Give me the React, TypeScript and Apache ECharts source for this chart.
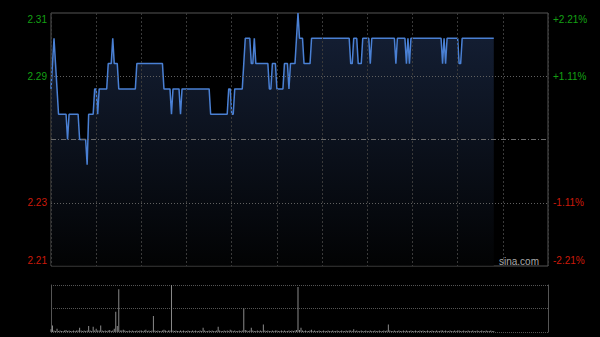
import React, { useEffect, useRef } from 'react';
import * as echarts from 'echarts';

// ---- data ----
const sessionMinutes = 330; // HK trading day 9:30-12:00, 13:00-16:00
const minuteStep = 30;
const prevClose = 2.26;
const priceMin = 2.21;
const priceMax = 2.31;
const dottedLevels = [2.235, 2.285];
const leftLabels = ['2.21', '2.23', '', '2.29', '2.31'];
const rightLabels = ['-2.21%', '-1.11%', '', '+1.11%', '+2.21%'];

const prices = [
  2.28, 2.29, 2.30, 2.29, 2.28, 2.27, 2.27, 2.27, 2.27, 2.27, 2.27, 2.26, 2.27, 2.27, 2.27, 2.27, 2.27, 2.27, 2.27, 2.26, 2.26, 2.26, 2.26, 2.26, 2.25, 2.27, 2.27, 2.27, 2.27, 2.28,
  2.28, 2.27, 2.28, 2.28, 2.28, 2.28, 2.28, 2.28, 2.29, 2.29, 2.29, 2.30, 2.29, 2.29, 2.29, 2.28, 2.28, 2.28, 2.28, 2.28, 2.28, 2.28, 2.28, 2.28, 2.28, 2.28, 2.28, 2.29, 2.29, 2.29,
  2.29, 2.29, 2.29, 2.29, 2.29, 2.29, 2.29, 2.29, 2.29, 2.29, 2.29, 2.29, 2.29, 2.29, 2.29, 2.28, 2.28, 2.28, 2.28, 2.28, 2.27, 2.28, 2.28, 2.28, 2.28, 2.28, 2.27, 2.28, 2.28, 2.28,
  2.28, 2.28, 2.28, 2.28, 2.28, 2.28, 2.28, 2.28, 2.28, 2.28, 2.28, 2.28, 2.28, 2.28, 2.28, 2.28, 2.27, 2.27, 2.27, 2.27, 2.27, 2.27, 2.27, 2.27, 2.27, 2.27, 2.27, 2.27, 2.28, 2.28,
  2.27, 2.27, 2.28, 2.28, 2.28, 2.28, 2.28, 2.28, 2.29, 2.30, 2.30, 2.30, 2.30, 2.29, 2.29, 2.30, 2.29, 2.29, 2.29, 2.29, 2.29, 2.29, 2.29, 2.29, 2.29, 2.28, 2.28, 2.29, 2.29, 2.29,
  2.28, 2.28, 2.28, 2.28, 2.28, 2.29, 2.29, 2.29, 2.28, 2.29, 2.29, 2.29, 2.29, 2.30, 2.31, 2.30, 2.30, 2.30, 2.29, 2.29, 2.29, 2.29, 2.29, 2.30, 2.30, 2.30, 2.30, 2.30, 2.30, 2.30,
  2.30, 2.30, 2.30, 2.30, 2.30, 2.30, 2.30, 2.30, 2.30, 2.30, 2.30, 2.30, 2.30, 2.30, 2.30, 2.30, 2.30, 2.30, 2.30, 2.29, 2.29, 2.30, 2.30, 2.30, 2.29, 2.29, 2.29, 2.30, 2.30, 2.30,
  2.30, 2.30, 2.29, 2.30, 2.30, 2.30, 2.30, 2.30, 2.30, 2.30, 2.30, 2.30, 2.30, 2.30, 2.30, 2.30, 2.30, 2.30, 2.30, 2.29, 2.30, 2.30, 2.30, 2.30, 2.30, 2.30, 2.29, 2.30, 2.29, 2.30,
  2.30, 2.30, 2.30, 2.30, 2.30, 2.30, 2.30, 2.30, 2.30, 2.30, 2.30, 2.30, 2.30, 2.30, 2.30, 2.30, 2.30, 2.30, 2.30, 2.30, 2.29, 2.30, 2.29, 2.30, 2.30, 2.30, 2.30, 2.30, 2.30, 2.30,
  2.30, 2.29, 2.29, 2.30, 2.30, 2.30, 2.30, 2.30, 2.30, 2.30, 2.30, 2.30, 2.30, 2.30, 2.30, 2.30, 2.30, 2.30, 2.30, 2.30, 2.30, 2.30, 2.30, 2.30, 2.30,
];

const volumes = [
  6, 14, 3, 2, 7, 2, 3, 2, 2, 3, 4, 2, 3, 2, 2, 3, 2, 3, 3, 9, 3, 2, 3, 2, 3, 13, 3, 2, 11, 3,
  7, 3, 3, 14, 3, 2, 3, 2, 3, 4, 2, 3, 7, 43, 13, 91, 3, 3, 5, 3, 2, 2, 3, 2, 3, 2, 2, 3, 2, 3,
  3, 2, 3, 5, 2, 3, 2, 3, 34, 3, 2, 3, 2, 2, 3, 5, 3, 2, 3, 3, 100, 3, 2, 3, 2, 2, 3, 2, 3, 2,
  2, 3, 2, 2, 3, 2, 3, 2, 2, 3, 2, 9, 3, 2, 2, 3, 2, 3, 2, 2, 3, 11, 3, 2, 2, 3, 2, 3, 2, 5,
  3, 2, 3, 2, 2, 3, 2, 3, 50, 4, 3, 2, 3, 9, 3, 2, 2, 3, 2, 3, 2, 16, 3, 2, 3, 2, 2, 3, 2, 3,
  3, 2, 2, 3, 2, 3, 2, 2, 3, 2, 3, 2, 3, 4, 96, 4, 9, 3, 2, 3, 2, 2, 3, 5, 2, 3, 2, 2, 3, 2,
  2, 3, 2, 2, 3, 2, 2, 3, 2, 2, 3, 2, 2, 3, 2, 2, 3, 2, 3, 3, 2, 6, 2, 3, 2, 2, 3, 2, 2, 3,
  2, 2, 3, 2, 2, 3, 2, 2, 3, 2, 2, 3, 2, 3, 16, 3, 2, 2, 3, 2, 2, 3, 2, 2, 3, 2, 3, 2, 2, 3,
  2, 2, 3, 2, 2, 3, 2, 3, 2, 2, 3, 2, 2, 3, 2, 2, 3, 2, 2, 3, 3, 2, 3, 2, 2, 3, 2, 2, 3, 2,
  3, 3, 2, 2, 3, 2, 2, 3, 2, 2, 3, 2, 2, 3, 2, 2, 3, 2, 2, 3, 2, 2, 3, 2, 2,
];
const volumeMax = 100;

const FONT = '"Liberation Sans", Arial, sans-serif';
const GREEN = '#14a014';
const RED = '#cc1a0a';

function labelAxis(position: 'left' | 'right', labels: string[], margin: number) {
  return {
    type: 'value',
    gridIndex: 0,
    position,
    min: 0,
    max: labels.length - 1,
    interval: 1,
    axisLine: { show: false },
    axisTick: { show: false },
    splitLine: { show: false },
    axisLabel: {
      margin,
      fontSize: 10,
      fontFamily: FONT,
      color: (v: number) => (v > 2 ? GREEN : v < 2 ? RED : '#ccc'),
      formatter: (v: number) => {
        const i = Math.round(v);
        const t = labels[i];
        if (!t) return '';
        if (i === labels.length - 1) return `{top|${t}}`;
        if (i === 0) return `{bot|${t}}`;
        return t;
      },
      rich: {
        top: { color: GREEN, fontSize: 10, fontFamily: FONT, padding: [12, 0, 0, 0] },
        bot: { color: RED, fontSize: 10, fontFamily: FONT, padding: [0, 0, 12, 0] },
      },
    },
  };
}

export default function App() {
  const ref = useRef<HTMLDivElement>(null);
  useEffect(() => {
    if (!ref.current) return;
    const chart = echarts.init(ref.current, null, { renderer: 'svg' });
    const lineData = prices.map((p, i) => [i, p]);
    const volData = volumes.map((v, i) => [i, v]);
    chart.setOption({
      animation: false,
      backgroundColor: '#000',
      grid: [
        { left: 51, top: 13, width: 497, height: 253, show: true, borderColor: '#555', borderWidth: 1, backgroundColor: 'transparent' },
        { left: 51, top: 285, width: 497, height: 47 },
      ],
      xAxis: [
        {
          type: 'value', gridIndex: 0, min: 0, max: sessionMinutes, interval: minuteStep,
          axisLine: { show: false }, axisTick: { show: false }, axisLabel: { show: false },
          splitLine: { show: true, lineStyle: { color: '#3a3a3a', type: [2, 2], width: 1 } },
          z: 5,
        },
        {
          type: 'value', gridIndex: 1, min: 0, max: sessionMinutes, interval: minuteStep,
          axisLine: { show: false }, axisTick: { show: false }, axisLabel: { show: false },
          splitLine: { show: false },
        },
      ],
      yAxis: [
        { type: 'value', gridIndex: 0, min: priceMin, max: priceMax, show: false },
        labelAxis('left', leftLabels, 4),
        labelAxis('right', rightLabels, 5),
        {
          type: 'value', gridIndex: 1, position: 'left', min: 0, max: volumeMax, interval: volumeMax / 2,
          axisLine: { show: true, lineStyle: { color: '#555' } }, axisTick: { show: false }, axisLabel: { show: false },
          splitLine: { show: true, lineStyle: { color: '#555', type: [1, 1] } },
        },
        {
          type: 'value', gridIndex: 1, position: 'right', min: 0, max: volumeMax, interval: volumeMax / 2,
          axisLine: { show: true, lineStyle: { color: '#555' } }, axisTick: { show: false }, axisLabel: { show: false },
          splitLine: { show: false },
        },
      ],
      series: [
        {
          type: 'line',
          xAxisIndex: 0,
          yAxisIndex: 0,
          data: lineData,
          symbol: 'none',
          showSymbol: false,
          lineStyle: { color: '#4a80d4', width: 1.5 },
          areaStyle: {
            origin: 'start',
            color: new echarts.graphic.LinearGradient(0, 0, 0, 1, [
              { offset: 0, color: '#1e2e4e' },
              { offset: 1, color: '#030405' },
            ]),
          },
          markLine: {
            silent: true,
            precision: 4,
            symbol: ['none', 'none'],
            label: { show: false },
            data: [
              ...dottedLevels.map((lv) => ({ yAxis: lv, lineStyle: { color: '#606060', type: [1, 2], width: 1 } })),
              { yAxis: prevClose, lineStyle: { color: '#6a6a6a', type: [5, 2, 1, 2], width: 1 } },
            ],
          },
        },
        {
          type: 'bar',
          xAxisIndex: 1,
          yAxisIndex: 3,
          data: volData,
          barWidth: 1,
          itemStyle: { color: '#8a8a8a' },
        },
      ],
      graphic: [
        {
          type: 'text',
          left: 499,
          top: 256,
          style: { text: 'sina.com', fill: '#aaaaaa', font: `10px ${FONT}` },
          z: 10,
        },
      ],
    });
    return () => chart.dispose();
  }, []);
  return <div ref={ref} style={{ position: 'fixed', left: 0, top: 0, width: 600, height: 337, background: '#000' }} />;
}
